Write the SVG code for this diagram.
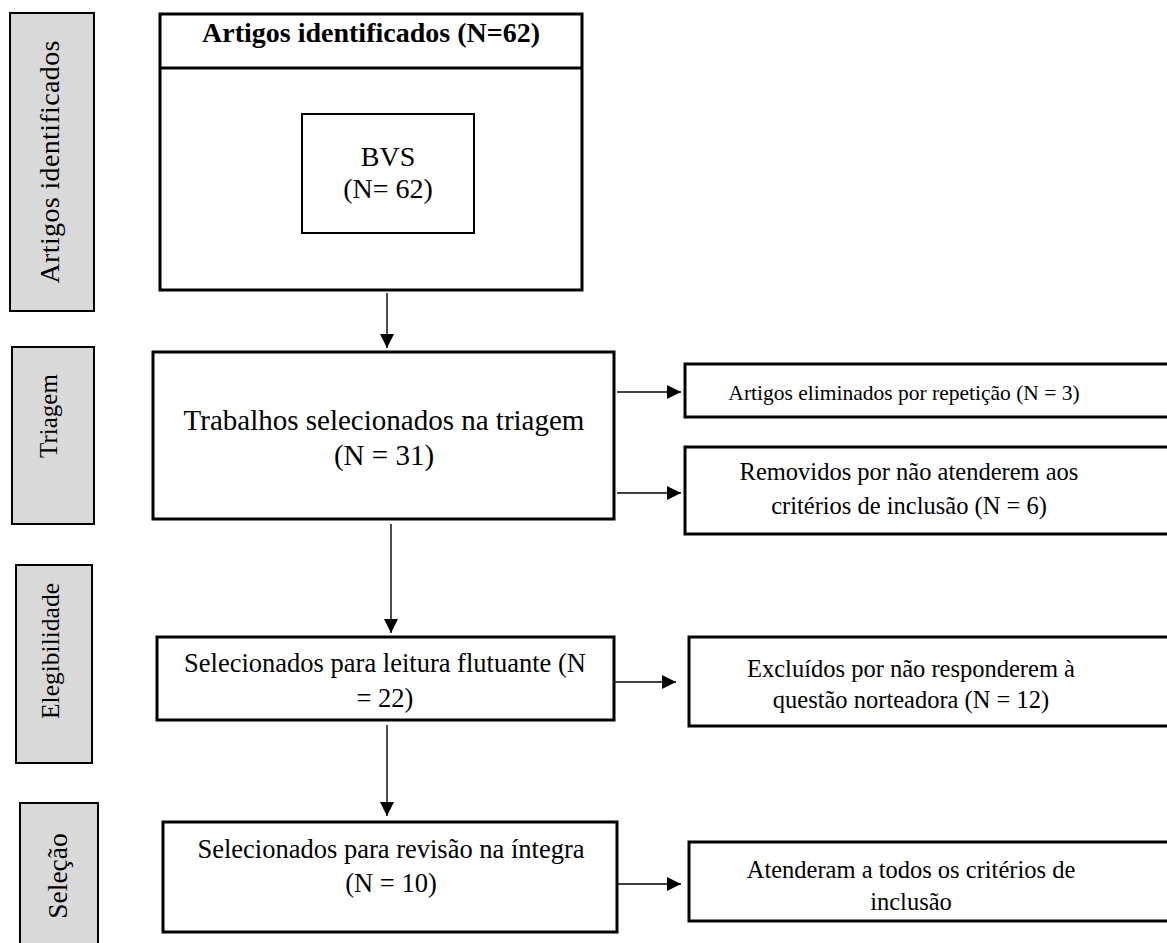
<svg xmlns="http://www.w3.org/2000/svg" width="1167" height="943" viewBox="0 0 1167 943">
<style>
.side{fill:#d9d9d9;stroke:#000;stroke-width:2}
.box{fill:#fff;stroke:#000;stroke-width:3}
.t{font-family:'Liberation Serif','Tinos','Times New Roman','DejaVu Serif','Noto Serif',Times,serif;fill:#000;text-anchor:middle}
.c{stroke:#000;stroke-width:1.4;fill:none}
</style>
<defs>
<marker id="ah" markerUnits="userSpaceOnUse" markerWidth="15" markerHeight="14" refX="14" refY="7" orient="auto">
<path d="M0,0 L14,7 L0,14 z" fill="#000"/>
</marker>
</defs>
<rect width="1167" height="943" fill="#fff"/>
<g id="side-identificados">
<rect class="side" x="10" y="13" width="84" height="298"/>
<text class="t" font-size="28" transform="translate(59,162) rotate(-90)" textLength="243">Artigos identificados</text>
</g>
<g id="side-triagem">
<rect class="side" x="12" y="347" width="82" height="177"/>
<text class="t" font-size="25" transform="translate(57,416) rotate(-90)">Triagem</text>
</g>
<g id="side-elegibilidade">
<rect class="side" x="16" y="565" width="76" height="198"/>
<text class="t" font-size="25.5" transform="translate(59,651) rotate(-90)">Elegibilidade</text>
</g>
<g id="side-selecao">
<rect class="side" x="20" y="803" width="78" height="150"/>
<text class="t" font-size="27.5" transform="translate(67,876) rotate(-90)">Seleção</text>
</g>
<g id="box-identificados">
<rect class="box" x="160" y="14" width="422" height="276"/>
<line x1="160" y1="68" x2="582" y2="68" stroke="#000" stroke-width="3"/>
<text class="t" font-size="28" font-weight="bold" x="371" y="42">Artigos identificados (N=62)</text>
</g>
<g id="box-bvs">
<rect fill="#fff" stroke="#000" stroke-width="2" x="302" y="114" width="172" height="119"/>
<text class="t" font-size="28" x="388" y="166">BVS</text>
<text class="t" font-size="28" x="388" y="198">(N= 62)</text>
</g>
<g id="box-triagem">
<rect class="box" x="153" y="352" width="461" height="167"/>
<text class="t" font-size="29" x="384" y="430">Trabalhos selecionados na triagem</text>
<text class="t" font-size="29" x="384" y="465">(N = 31)</text>
</g>
<g id="box-repeticao">
<rect class="box" x="685" y="364" width="500" height="53"/>
<text class="t" font-size="21.5" x="904" y="400">Artigos eliminados por repetição (N = 3)</text>
</g>
<g id="box-removidos">
<rect class="box" x="685" y="447" width="500" height="87"/>
<text class="t" font-size="24.5" x="909" y="480">Removidos por não atenderem aos</text>
<text class="t" font-size="24.5" x="909" y="514">critérios de inclusão (N = 6)</text>
</g>
<g id="box-leitura">
<rect class="box" x="157" y="637" width="457" height="83"/>
<text class="t" font-size="26.5" x="385" y="672">Selecionados para leitura flutuante (N</text>
<text class="t" font-size="26.5" x="385" y="707">= 22)</text>
</g>
<g id="box-excluidos">
<rect class="box" x="689" y="637" width="500" height="89"/>
<text class="t" font-size="24.5" x="911" y="677">Excluídos por não responderem à</text>
<text class="t" font-size="24.5" x="911" y="708">questão norteadora (N = 12)</text>
</g>
<g id="box-revisao">
<rect class="box" x="163" y="822" width="454" height="110"/>
<text class="t" font-size="26.5" x="391" y="858">Selecionados para revisão na íntegra</text>
<text class="t" font-size="26.5" x="391" y="892">(N = 10)</text>
</g>
<g id="box-atenderam">
<rect class="box" x="689" y="842" width="500" height="79"/>
<text class="t" font-size="24.5" x="911" y="878">Atenderam a todos os critérios de</text>
<text class="t" font-size="24.5" x="911" y="910">inclusão</text>
</g>
<g id="connectors">
<line class="c" x1="387" y1="293" x2="387" y2="348" marker-end="url(#ah)"/>
<line class="c" x1="617" y1="392" x2="681" y2="392" marker-end="url(#ah)"/>
<line class="c" x1="617" y1="493" x2="681" y2="493" marker-end="url(#ah)"/>
<line class="c" x1="391" y1="524" x2="391" y2="633" marker-end="url(#ah)"/>
<line class="c" x1="615" y1="682" x2="676" y2="682" marker-end="url(#ah)"/>
<line class="c" x1="387" y1="725" x2="387" y2="816" marker-end="url(#ah)"/>
<line class="c" x1="618" y1="884" x2="681" y2="884" marker-end="url(#ah)"/>
</g>
</svg>
